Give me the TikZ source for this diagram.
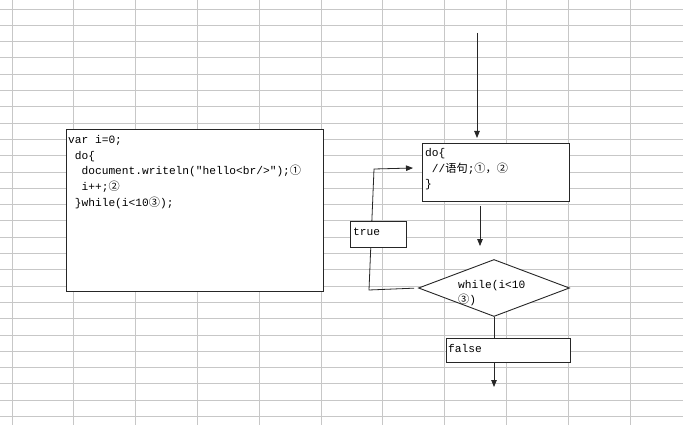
\documentclass[tikz,border=0pt]{standalone}
\usepackage{fontspec}
\setmonofont{Liberation Mono}
\newfontfamily\cjk{Noto Sans CJK SC}
\usetikzlibrary{arrows.meta,shapes.geometric}

\newcommand{\cn}[1]{{\cjk #1}}
\newcommand{\ind}{\hphantom{x}}

\begin{document}
\begin{tikzpicture}[x=1pt,y=-1pt,
  box/.style={draw=black!85,fill=white,line width=0.9pt,inner sep=0pt,anchor=north west},
  txt/.style={font=\ttfamily\fontsize{11.2}{15.5}\selectfont,inner sep=0pt,anchor=base west},
  arr/.style={-{Triangle[length=7pt,width=5.5pt]},line width=0.8pt,draw=black!85}]
\useasboundingbox (0,0) rectangle (683,425);
\fill[white] (0,0) rectangle (683,425);
% sheet grid
\foreach \i in {0,...,25}
  \draw[black!22,line width=0.9pt] (0,9+16.3*\i) -- (683,9+16.3*\i);
\foreach \i in {0,...,10}
  \draw[black!22,line width=0.9pt] (12+61.8*\i,0) -- (12+61.8*\i,425);

% code box
\node[box,minimum width=257,minimum height=162] (code) at (66,129) {};
\node[txt] (c1) at (68,144) {var i=0;};
\node[txt] (c2) at (68,159.5) {\ind do\{};
\node[txt] (c3) at (68,175) {\ind\ind document.writeln("hello<br/>");\cn{①}};
\node[txt] (c4) at (68,190.5) {\ind\ind i++;\cn{②}};
\node[txt] (c5) at (68,206) {\ind\}while(i<10\cn{③});};

% flow chart
\node[box,minimum width=147,minimum height=58] (dobox) at (422,143) {};
\node[txt] (d1) at (425,157) {do\{};
\node[txt] (d2) at (425,172) {\ind//\cn{语句};\cn{①，②}};
\node[txt] (d3) at (425,187) {\}};

\node[draw=black!85,fill=white,line width=0.9pt,diamond,inner sep=0pt,
  minimum width=151,minimum height=57] (cond) at (494,288) {};
\node[txt] (w1) at (458,288) {while(i<10};
\node[txt] (w2) at (458,303) {\cn{③})};

\coordinate (start) at (477,33);
\coordinate (mid) at (480,0);
\coordinate (t1) at (369,290);
\coordinate (t2) at (374,169);
\coordinate (t3) at (413,168);

\draw[arr,shorten >=5pt] (start) -- (start |- dobox.north);
\draw[arr,shorten <=4pt,shorten >=13pt] (mid |- dobox.south) -- (mid |- cond.north);
\draw[arr,shorten <=4pt] (cond.west) -- (t1) -- (t2) -- (t3);

\node[box,minimum width=56,minimum height=26] (tbox) at (350,221) {};
\node[txt] (tt) at (353,235) {true};

\node[box,minimum width=124,minimum height=24] (fbox) at (446,338) {};
\node[txt] (ft) at (448,352) {false};
\coordinate (out) at (494,387);
\draw[line width=0.8pt,draw=black!85] (cond.south) -- (cond.south |- fbox.north);
\draw[arr] (out |- fbox.south) -- (out);
\end{tikzpicture}
\end{document}
